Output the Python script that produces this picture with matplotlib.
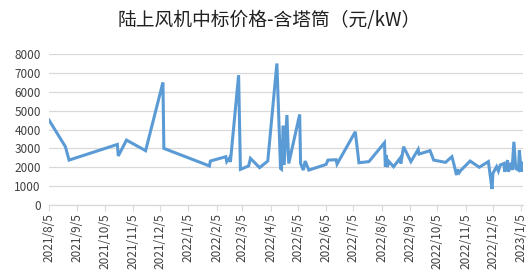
import datetime as dt
import matplotlib
matplotlib.use('Agg')
import matplotlib.pyplot as plt
import matplotlib.dates as mdates
import matplotlib.ticker as mticker

plt.rcParams['font.family'] = ['Noto Sans CJK SC', 'DejaVu Sans']

title = '陆上风机中标价格-含塔筒（元/kW）'

dates = [
    '2021-08-05', '2021-08-23', '2021-08-27', '2021-10-19', '2021-10-20',
    '2021-10-29', '2021-11-19', '2021-12-08', '2021-12-09', '2022-01-28',
    '2022-01-29', '2022-02-15', '2022-02-16', '2022-02-19', '2022-02-20',
    '2022-03-01', '2022-03-03', '2022-03-12', '2022-03-14', '2022-03-24',
    '2022-04-02', '2022-04-12', '2022-04-16', '2022-04-17', '2022-04-19',
    '2022-04-20', '2022-04-23', '2022-04-25', '2022-05-07', '2022-05-08',
    '2022-05-11', '2022-05-13', '2022-05-17', '2022-06-05', '2022-06-07',
    '2022-06-16', '2022-06-17', '2022-07-07', '2022-07-11', '2022-07-22',
    '2022-08-08', '2022-08-09', '2022-08-10', '2022-08-11', '2022-08-13',
    '2022-08-18', '2022-08-25', '2022-08-26', '2022-08-29', '2022-09-06',
    '2022-09-14', '2022-09-15', '2022-09-27', '2022-10-01', '2022-10-14',
    '2022-10-21', '2022-10-23', '2022-10-26', '2022-10-27', '2022-10-29',
    '2022-10-31', '2022-11-10', '2022-11-20', '2022-11-30', '2022-12-04',
    '2022-12-05', '2022-12-09', '2022-12-11', '2022-12-13', '2022-12-17',
    '2022-12-18', '2022-12-21', '2022-12-22', '2022-12-25', '2022-12-26',
    '2022-12-28', '2022-12-30', '2023-01-02', '2023-01-03', '2023-01-05',
    '2023-01-07',
]
prices = [
    4500, 3090, 2380, 3210, 2600,
    3440, 2880, 6500, 3000, 2070,
    2330, 2560, 2300, 2490, 2280,
    6880, 1890, 2070, 2470, 1980,
    2330, 7500, 1940, 1900, 4200,
    2120, 4770, 2200, 4800, 2200,
    1850, 2330, 1850, 2150, 2380,
    2400, 2170, 3880, 2240, 2300,
    3300, 2030, 2650, 2010, 2300,
    2030, 2470, 2200, 3090, 2300,
    2950, 2700, 2880, 2380, 2260,
    2560, 2200, 1590, 1890, 1710,
    1850, 2330, 2000, 2300, 850,
    1680, 2030, 1800, 2120, 2200,
    1760, 2380, 1760, 2240, 1850,
    3350, 1940, 1850, 2910, 1760,
    2220,
]

x = [dt.datetime.strptime(d, '%Y-%m-%d') for d in dates]

fig = plt.figure(figsize=(5.32, 2.75), dpi=100)
ax = fig.add_axes([0.0921, 0.2545, 0.891, 0.549])

ax.plot(x, prices, color='#5B9BD5', lw=2.2, solid_joinstyle='miter', zorder=3)

ax.set_xlim(x[0], x[-1])
ax.set_ylim(0, 8000)
ax.yaxis.set_major_locator(mticker.MultipleLocator(1000))
ax.grid(axis='y', color='#D9D9D9', lw=0.9)
ax.set_axisbelow(True)

ax.xaxis.set_major_locator(mdates.MonthLocator(bymonthday=5))
ax.xaxis.set_major_formatter(mticker.FuncFormatter(
    lambda v, pos: (lambda d: f'{d.year}/{d.month}/{d.day}')(mdates.num2date(v))))

for s in ['top', 'right', 'left']:
    ax.spines[s].set_visible(False)
ax.spines['bottom'].set_color('#D9D9D9')
ax.spines['bottom'].set_linewidth(0.9)

ax.tick_params(axis='y', length=0, labelsize=8.5, colors='#404040', pad=6)
ax.tick_params(axis='x', length=4, color='#D9D9D9', labelsize=8.5,
               labelcolor='#404040', labelrotation=90, pad=2)

fig.text(0.505, 0.925, title, ha='center', va='center', fontsize=13.5, color='#202020')

fig.savefig('out.png', dpi=100)
